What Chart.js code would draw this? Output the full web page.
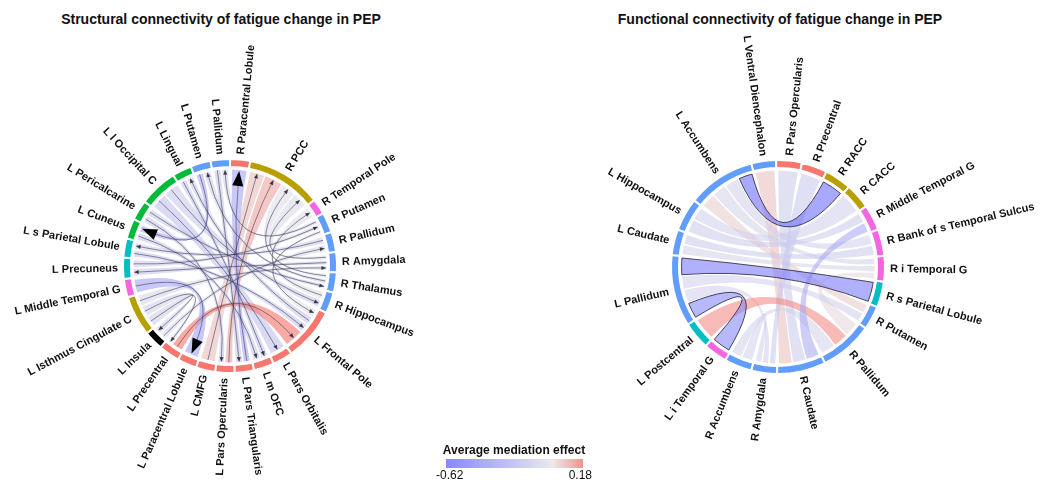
<!DOCTYPE html>
<html>
<head>
<meta charset="utf-8">
<script src="https://cdn.jsdelivr.net/npm/chart.js@4.4.0/dist/chart.umd.min.js"></script>
<style>
  html, body { margin: 0; padding: 0; background: #fff; }
  #page { position: relative; width: 1042px; height: 485px; overflow: hidden; font-family: "Liberation Sans", Arial, sans-serif; color: #111; }
  .title { position: absolute; top: 11px; font-weight: bold; font-size: 14px; white-space: nowrap; transform: translateX(-50%); }
  canvas { position: absolute; top: 0; }
  #legend { position: absolute; left: 436px; top: 443px; width: 156px; text-align: center; }
  #legend .name { font-weight: bold; font-size: 12px; }
  #legend .bar { margin: 2px auto 0; width: 137px; height: 9px; }
  #legend .ticks { display: flex; justify-content: space-between; font-size: 12px; margin-top: 0px; }
</style>
</head>
<body>
<div id="page">
  <div class="title" style="left:221px">Structural connectivity of fatigue change in PEP</div>
  <div class="title" style="left:780px">Functional connectivity of fatigue change in PEP</div>
  <canvas id="structChart" width="500" height="485" style="left:0"></canvas>
  <canvas id="funcChart" width="522" height="485" style="left:520px"></canvas>
  <div id="legend">
    <div class="name">Average mediation effect</div>
    <div class="bar" id="legendBar"></div>
    <div class="ticks" id="legendTicks"></div>
  </div>
</div>
<script>
// ggplot hue palette used for the sector groups
const RED = '#F8766D', OLIVE = '#B79F00', GREEN = '#00BA38', TEAL = '#00BFC4', BLUE = '#619CFF', MAGENTA = '#F564E3', BLACK = '#000000';

// colour scale of the mediation effect
const effectMin = -0.62;
const effectMax = 0.18;
const legendTicks = ['-0.62', '0.18'];

// ---- structural connectivity (left) ----
const structNames = ['R Paracentral Lobule', 'R PCC', 'R Temporal Pole', 'R Putamen', 'R Pallidum', 'R Amygdala', 'R Thalamus', 'R Hippocampus',
    'L Frontal Pole', 'L Pars Orbitalis', 'L m OFC', 'L Pars Triangularis', 'L Pars Opercularis', 'L CMFG', 'L Paracentral Lobule', 'L Precentral',
    'L Insula', 'L Isthmus Cingulate C', 'L Middle Temporal G', 'L Precuneus', 'L s Parietal Lobule', 'L Cuneus', 'L Pericalcarine',
    'L l Occipital C', 'L Lingual', 'L Putamen', 'L Pallidum'];
const structSizes = [11, 41, 8.5, 11, 11, 11, 11, 11.5, 29, 11, 11, 10.5, 10.5, 10.5, 10.5, 11.5, 10.5, 22, 10, 11.5, 10.5, 11, 11, 21, 10.5, 11, 10.5];
const structColors = [RED, OLIVE, MAGENTA, BLUE, BLUE, BLUE, BLUE, BLUE, RED, RED, RED, RED, RED, RED, RED, RED,
    BLACK, OLIVE, MAGENTA, TEAL, TEAL, GREEN, GREEN, GREEN, GREEN, BLUE, BLUE];

const structFrom = ['L Precentral', 'L Pars Opercularis', 'L CMFG', 'R Thalamus', 'R Amygdala', 'L Pars Triangularis', 'L Middle Temporal G',
    'L Putamen', 'R Amygdala', 'R Pallidum', 'R Hippocampus', 'L Lingual', 'L l Occipital C', 'L l Occipital C', 'L Pericalcarine',
    'L Pallidum', 'R Putamen', 'R Thalamus', 'L Frontal Pole', 'L Isthmus Cingulate C', 'L Isthmus Cingulate C', 'L s Parietal Lobule',
    'L Cuneus', 'L Pericalcarine', 'L Precuneus', 'L Insula', 'L Isthmus Cingulate C', 'R Putamen'];
const structTo = ['L Frontal Pole', 'R PCC', 'R PCC', 'R PCC', 'R PCC', 'R Paracentral Lobule', 'L Paracentral Lobule',
    'L Cuneus', 'L Precuneus', 'L s Parietal Lobule', 'R Temporal Pole', 'L m OFC', 'L Pars Orbitalis', 'R Hippocampus', 'R Thalamus',
    'L Pars Triangularis', 'L Pallidum', 'L Putamen', 'L Lingual', 'L Insula', 'L Precentral', 'L Frontal Pole',
    'L m OFC', 'L Pars Opercularis', 'R Putamen', 'R Pallidum', 'R Amygdala', 'L Frontal Pole'];
const structEffect = [0.18, 0.10, 0.06, -0.03, -0.04, -0.30, -0.32,
    -0.28, -0.12, -0.10, -0.03, -0.15, -0.16, -0.12, -0.12,
    -0.14, -0.08, -0.10, -0.12, -0.10, -0.08, -0.15,
    -0.14, -0.12, -0.10, -0.05, -0.06, -0.02];
const structWeight = [2.2, 1.2, 1, 1, 1, 1, 1.2, 1, 1, 1, 1, 1, 1, 1, 1, 1, 1, 1, 1, 1, 1, 1, 1, 1, 1, 1, 1, 1];
const structBigArrow = [false, false, false, false, false, true, true, true, false, false, false, false, false, false, false,
    false, false, false, false, false, false, false, false, false, false, false, false, false];

// ---- functional connectivity (right) ----
const funcNames = ['L Ventral Diencephalon', 'R Pars Opercularis', 'R Precentral', 'R RACC', 'R CACC', 'R Middle Temporal G',
    'R Bank of s Temporal Sulcus', 'R i Temporal G', 'R s Parietal Lobule', 'R Putamen', 'R Pallidum', 'R Caudate', 'R Amygdala',
    'R Accumbens', 'L i Temporal G', 'L Postcentral', 'L Pallidum', 'L Caudate', 'L Hippocampus', 'L Accumbens'];
const funcSizes = [13.5, 14, 14, 14.5, 14, 14, 14.5, 14, 14, 13, 29, 26.5, 14, 15, 13, 15, 39, 14, 18, 37];
const funcColors = [BLUE, RED, RED, OLIVE, OLIVE, MAGENTA, MAGENTA, MAGENTA, TEAL, BLUE, BLUE, BLUE, BLUE, BLUE,
    MAGENTA, TEAL, BLUE, BLUE, BLUE, BLUE];

const funcFrom = ['L Accumbens', 'L Pallidum', 'L Pallidum', 'L Postcentral', 'L Ventral Diencephalon', 'R Middle Temporal G',
    'R Pars Opercularis', 'R Precentral', 'L Accumbens', 'L Accumbens', 'L Accumbens', 'L Hippocampus', 'L Hippocampus',
    'L Caudate', 'L Caudate', 'L Pallidum', 'L Pallidum', 'R Accumbens', 'R Accumbens', 'R Pallidum'];
const funcTo = ['R RACC', 'R s Parietal Lobule', 'L i Temporal G', 'R Pallidum', 'R Caudate', 'R Caudate',
    'R Caudate', 'R Amygdala', 'R Bank of s Temporal Sulcus', 'R i Temporal G', 'R Putamen', 'R CACC', 'R Middle Temporal G',
    'R Bank of s Temporal Sulcus', 'R i Temporal G', 'R Putamen', 'R Amygdala', 'R Amygdala', 'R Pallidum', 'R i Temporal G'];
const funcEffect = [-0.62, -0.55, -0.48, 0.15, 0.06, -0.30, -0.12, -0.14, -0.10, -0.08, 0.04, -0.10, -0.12,
    -0.12, -0.08, -0.10, -0.10, -0.09, -0.08, 0.02];
const funcWeight = [1, 1.3, 1.2, 1, 1, 1, 1, 1, 1, 1, 1, 1, 1, 1, 1, 1, 1, 1, 1, 1];
const funcOutlined = [true, true, true, false, false, false, false, false, false, false, false, false, false,
    false, false, false, false, false, false, false];

const FONT = '"Liberation Sans", Arial, sans-serif';
const TAU = Math.PI * 2;

function effectColor(v, alpha) {
    const lo = [105, 105, 255], mid = [228, 228, 232], hi = [246, 118, 108];
    let c;
    if (v < 0) {
        const t = Math.min(v / effectMin, 1);
        c = mid.map((m, i) => m + (lo[i] - m) * t);
    } else {
        const t = Math.min(v / effectMax, 1);
        c = mid.map((m, i) => m + (hi[i] - m) * t);
    }
    return `rgba(${c.map(Math.round).join(',')},${alpha})`;
}

// split every sector between the links that touch it
function layoutLinks(arcs, from, to, weight) {
    const mids = arcs.map(a => (a.startAngle + a.endAngle) / 2);
    const ends = arcs.map(() => []);
    from.forEach((f, k) => {
        ends[f].push({ k, side: 0, other: to[k] });
        ends[to[k]].push({ k, side: 1, other: f });
    });
    const slots = from.map(() => [null, null]);
    ends.forEach((list, i) => {
        if (!list.length) return;
        const arc = arcs[i];
        const r = arc.innerRadius;
        const edge = 1.2 / r;
        const s = arc.startAngle + edge, e = arc.endAngle - edge;
        const delta = o => (((mids[o] - mids[i]) % TAU) + TAU) % TAU;
        list.sort((p, q) => delta(q.other) - delta(p.other));
        const total = list.reduce((sum, p) => sum + weight[p.k], 0);
        let cur = s;
        list.forEach(p => {
            const span = (e - s) * weight[p.k] / total;
            const pad = Math.min(span * 0.15, 0.8 / r);
            slots[p.k][p.side] = [cur + pad, cur + span - pad];
            cur += span;
        });
    });
    return slots;
}

function ribbonPath(ctx, cx, cy, r, A, B) {
    ctx.beginPath();
    ctx.arc(cx, cy, r, A[0], A[1]);
    ctx.quadraticCurveTo(cx, cy, cx + r * Math.cos(B[0]), cy + r * Math.sin(B[0]));
    ctx.arc(cx, cy, r, B[0], B[1]);
    ctx.quadraticCurveTo(cx, cy, cx + r * Math.cos(A[0]), cy + r * Math.sin(A[0]));
    ctx.closePath();
}

function arrowHead(ctx, cx, cy, r, ang, len, half) {
    const ux = Math.cos(ang), uy = Math.sin(ang);
    const tx = cx + r * ux, ty = cy + r * uy;
    const bx = tx - len * ux, by = ty - len * uy;
    ctx.beginPath();
    ctx.moveTo(tx, ty);
    ctx.lineTo(bx - half * uy, by + half * ux);
    ctx.lineTo(bx + half * uy, by - half * ux);
    ctx.closePath();
    ctx.fill();
}

const chordPlugin = {
    id: 'chords',
    afterDatasetsDraw(chart, args, opts) {
        const { ctx } = chart;
        const arcs = chart.getDatasetMeta(0).data;
        const cx = arcs[0].x, cy = arcs[0].y;
        const r = arcs[0].innerRadius - 2.5;
        const idx = name => opts.names.indexOf(name);
        const from = opts.from.map(idx), to = opts.to.map(idx);
        const slots = layoutLinks(arcs, from, to, opts.weight);

        const order = from.map((_, k) => k).sort((a, b) => {
            const oa = opts.outlined && opts.outlined[a] ? 1 : 0, ob = opts.outlined && opts.outlined[b] ? 1 : 0;
            if (oa !== ob) return oa - ob;
            return Math.abs(opts.effect[a]) - Math.abs(opts.effect[b]);
        });

        ctx.save();
        order.forEach(k => {
            const [A, B] = slots[k];
            ribbonPath(ctx, cx, cy, r, A, B);
            ctx.fillStyle = effectColor(opts.effect[k], opts.alpha);
            ctx.fill();
            if (opts.outlined && opts.outlined[k]) {
                ctx.strokeStyle = 'rgba(45,45,65,0.85)';
                ctx.lineWidth = 1;
                ctx.stroke();
            }
        });

        if (opts.arrows) {
            order.forEach(k => {
                const [A, B] = slots[k];
                const a = (A[0] + A[1]) / 2, b = (B[0] + B[1]) / 2;
                const big = opts.big[k];
                ctx.strokeStyle = 'rgba(50,50,75,0.62)';
                ctx.lineWidth = 0.9;
                ctx.beginPath();
                ctx.moveTo(cx + r * Math.cos(a), cy + r * Math.sin(a));
                ctx.quadraticCurveTo(cx, cy, cx + (r - 3) * Math.cos(b), cy + (r - 3) * Math.sin(b));
                ctx.stroke();
                ctx.fillStyle = big ? '#000' : 'rgba(35,35,55,0.85)';
                if (big) arrowHead(ctx, cx, cy, r - 1, b, 15, 5.5);
                else arrowHead(ctx, cx, cy, r, b, 5, 2);
            });
        }
        ctx.restore();
    },
    afterDraw(chart, args, opts) {
        const { ctx } = chart;
        const arcs = chart.getDatasetMeta(0).data;
        ctx.save();
        ctx.font = 'bold 11px ' + FONT;
        ctx.fillStyle = '#111';
        ctx.textBaseline = 'middle';
        arcs.forEach((arc, i) => {
            const mid = (arc.startAngle + arc.endAngle) / 2;
            const rr = arc.outerRadius + 5;
            ctx.save();
            ctx.translate(arc.x + rr * Math.cos(mid), arc.y + rr * Math.sin(mid));
            if (Math.cos(mid) >= 0) {
                ctx.rotate(mid);
                ctx.textAlign = 'left';
            } else {
                ctx.rotate(mid + Math.PI);
                ctx.textAlign = 'right';
            }
            ctx.fillText(opts.names[i], 0, 0);
            ctx.restore();
        });
        ctx.restore();
    }
};

function ringConfig(names, sizes, colors, rotation, padding, chords) {
    const outer = 107, inner = 99;
    return {
        type: 'doughnut',
        data: {
            labels: names,
            datasets: [{
                data: sizes,
                backgroundColor: colors,
                borderColor: '#ffffff',
                borderWidth: 2,
            }],
        },
        options: {
            responsive: false,
            animation: false,
            events: [],
            radius: outer,
            cutout: (inner / outer * 100) + '%',
            rotation: rotation,
            layout: { padding: padding },
            plugins: {
                legend: { display: false },
                tooltip: { enabled: false },
                chords: chords,
            },
        },
        plugins: [chordPlugin],
    };
}

new Chart(document.getElementById('structChart'), ringConfig(structNames, structSizes, structColors, 0,
    { left: 0, right: 40, top: 47, bottom: 0 },
    { names: structNames, from: structFrom, to: structTo, effect: structEffect, weight: structWeight,
      big: structBigArrow, arrows: true, alpha: 0.62 }));

new Chart(document.getElementById('funcChart'), ringConfig(funcNames, funcSizes, funcColors, -14.5,
    { left: 0, right: 6, top: 49, bottom: 0 },
    { names: funcNames, from: funcFrom, to: funcTo, effect: funcEffect, weight: funcWeight,
      outlined: funcOutlined, arrows: false, alpha: 0.58 }));

// colour bar legend
const stop0 = ((0 - effectMin) / (effectMax - effectMin) * 100).toFixed(1);
document.getElementById('legendBar').style.background =
    `linear-gradient(to right, ${effectColor(effectMin, 0.8)} 0%, ${effectColor(0, 0.8)} ${stop0}%, ${effectColor(effectMax, 0.8)} 100%)`;
const ticksEl = document.getElementById('legendTicks');
legendTicks.forEach(t => {
    const span = document.createElement('span');
    span.textContent = t;
    ticksEl.appendChild(span);
});
</script>
</body>
</html>
